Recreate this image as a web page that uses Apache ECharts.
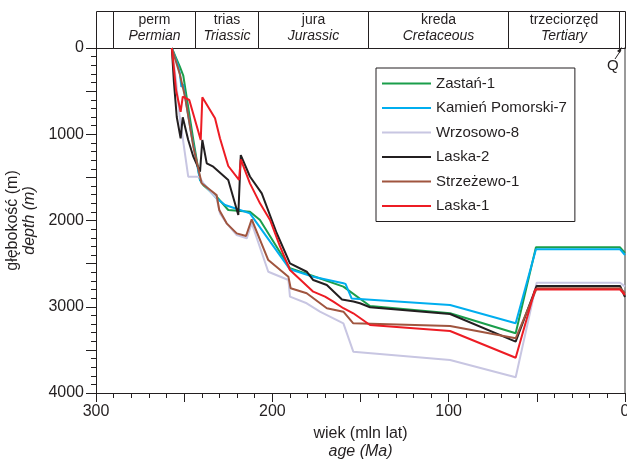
<!DOCTYPE html>
<html>
<head>
<meta charset="utf-8">
<script src="https://cdn.jsdelivr.net/npm/echarts@6/dist/echarts.min.js"></script>
<style>
html,body{margin:0;padding:0;background:#fff;}
#chart{width:627px;height:459px;}
</style>
</head>
<body>
<div id="chart"></div>
<script>
// ---- data (age in Ma, depth in m) ----
const seriesNames = ['Zastań-1', 'Kamień Pomorski-7', 'Wrzosowo-8', 'Laska-2', 'Strzeżewo-1', 'Laska-1'];
const seriesColors = ['#1a9e4b', '#00aeef', '#c8c6e2', '#231f20', '#a0553f', '#ed1c24'];

const zastan1 = [[257,0],[254.5,120],[252.4,220],[250.5,320],[244.8,1067],[241,1530],[239.1,1590],[231.6,1724],[225,1878],[212.7,1898],[207,1994],[190,2554],[178.6,2632],[159.7,2767],[144.6,2991],[99.2,3076],[62,3308],[50.5,2311],[2.8,2311],[0,2377]];
const kamien7 = [[257,0],[253.5,200],[252.4,300],[251.6,450],[250.6,420],[245.7,1028],[241,1530],[231.6,1743],[226.8,1820],[218.3,1878],[212.7,1917],[190,2566],[176.8,2652],[159.7,2728],[158.5,2735],[155,2905],[99.2,2980],[62,3192],[50.5,2334],[2.8,2334],[0,2400]];
const wrzosowo8 = [[257,0],[254.5,400],[252.5,800],[247.7,1492],[241.4,1492],[239.1,1569],[231.6,1743],[229.7,1917],[225.9,2033],[220.2,2168],[214.5,2207],[211.7,2030],[202.3,2594],[190.9,2690],[190,2883],[180.5,2960],[173,3057],[159.7,3192],[154.1,3521],[99.2,3617],[62,3818],[50.1,2721],[2.8,2721],[0,2767]];
const laska2 = [[257,0],[255.8,400],[254.2,800],[252,1047],[250.8,803],[247.7,1067],[244.8,1260],[241,1434],[239.7,1067],[237.2,1337],[233.5,1376],[225,1530],[219.3,1936],[217.9,1241],[212.7,1490],[206,1685],[197.5,2148],[190,2496],[180.5,2594],[176.8,2690],[169.1,2748],[160.5,2915],[154,2940],[150.3,2960],[144.6,3006],[99.2,3084],[62,3405],[50.1,2759],[2.8,2759],[0,2887]];
const strzezewo1 = [[257,0],[252.5,300],[249.5,565],[244.8,1144],[240.1,1569],[231.6,1704],[230.1,1878],[225.9,2033],[220.2,2149],[214.9,2180],[211.7,1986],[202.3,2458],[190.9,2651],[189.6,2786],[180.5,2844],[169.1,3018],[159.7,3057],[154.1,3192],[99.2,3223],[62,3366],[50.1,2786],[2.8,2786],[0,2841]];
const laska1 = [[257,0],[255.5,300],[254.6,490],[252,740],[250.8,565],[247.1,603],[240.6,1067],[239.7,572],[232.5,815],[229.7,1047],[225,1368],[218.9,1530],[217.9,1291],[212.7,1569],[207,1801],[201.3,1994],[195.6,2304],[190,2574],[176.8,2825],[170.1,2883],[165.4,2941],[159.7,3017],[154.1,3076],[144.6,3212],[99.2,3281],[62,3591],[51,2800],[2.8,2800],[0,2864]];

const seriesData = [zastan1, kamien7, wrzosowo8, laska2, strzezewo1, laska1];

// geological periods (Ma)
const periodStart = [300, 290.4, 243.9, 208.1, 145.7, 66.3, 3.4];
const periodEnd   = [290.4, 243.9, 208.1, 145.7, 66.3, 3.4, 0];
const periodPl = ['', 'perm', 'trias', 'jura', 'kreda', 'trzeciorzęd', ''];
const periodEn = ['', 'Permian', 'Triassic', 'Jurassic', 'Cretaceous', 'Tertiary', ''];

// axis ticks
const ageMin = 0, ageMax = 300, ageTickInterval = 50, ageLabelStep = 100;
const depthMin = 0, depthMax = 4000, depthTickInterval = 500, depthLabelStep = 1000;

const FONT = '"Liberation Sans", Arial, sans-serif';
const INK = '#231f20';

const chart = echarts.init(document.getElementById('chart'), null, {renderer: 'canvas'});

const lineSeries = seriesNames.map((name, i) => ({
  name: name,
  type: 'line',
  xAxisIndex: 0,
  yAxisIndex: 0,
  data: seriesData[i],
  symbol: 'none',
  showSymbol: false,
  lineStyle: {color: seriesColors[i], width: 2},
  itemStyle: {color: seriesColors[i]},
  z: 3,
  animation: false
}));

const periodData = periodStart.map((s, i) => [s, periodEnd[i], i]);

const headerSeries = {
  type: 'custom',
  xAxisIndex: 1,
  yAxisIndex: 2,
  data: periodData,
  encode: {x: [0, 1]},
  animation: false,
  silent: true,
  renderItem: function (params, api) {
    const s = api.value(0), e = api.value(1), idx = api.value(2);
    const p0 = api.coord([s, 1]);
    const p1 = api.coord([e, 0]);
    const x = Math.round(Math.min(p0[0], p1[0])) + 0.5;
    const w = Math.round(Math.abs(p1[0] - p0[0]));
    const y = Math.round(p0[1]) + 0.5;
    const h = Math.round(p1[1] - p0[1]);
    return {
      type: 'group',
      children: [
        {type: 'rect', shape: {x: x, y: y, width: w, height: h},
         style: {fill: 'none', stroke: INK, lineWidth: 1}},
        {type: 'text', x: x + w / 2, y: y + 2,
         style: {text: periodPl[idx], fill: INK, font: '14px ' + FONT, textAlign: 'center', textVerticalAlign: 'top'}},
        {type: 'text', x: x + w / 2, y: y + 18,
         style: {text: periodEn[idx], fill: INK, font: 'italic 14px ' + FONT, textAlign: 'center', textVerticalAlign: 'top'}}
      ]
    };
  }
};

const option = {
  backgroundColor: '#fff',
  animation: false,
  grid: [
    {left: 96, right: 2, top: 48, bottom: 66, containLabel: false, outerBoundsMode: 'none'},
    {left: 96, right: 2, top: 11, height: 37, containLabel: false, outerBoundsMode: 'none'}
  ],
  legend: {
    data: seriesNames,
    orient: 'vertical',
    left: 376,
    top: 68,
    itemWidth: 49,
    itemHeight: 15,
    itemGap: 9.5,
    padding: [8, 8, 8, 6],
    borderColor: INK,
    borderWidth: 1,
    textStyle: {fontFamily: FONT, fontSize: 15, color: INK, lineHeight: 15},
    icon: 'path://M0,0 L49,0 L49,2 L0,2 Z'
  },
  xAxis: [
    {
      type: 'value', gridIndex: 0, min: ageMin, max: ageMax, interval: ageTickInterval, inverse: true,
      position: 'bottom',
      axisLine: {show: true, onZero: false, lineStyle: {color: INK, width: 1}},
      axisTick: {show: true, length: 9, lineStyle: {color: INK}},
      minorTick: {show: true, splitNumber: 5, length: 5, lineStyle: {color: INK}},
      axisLabel: {margin: 11, fontFamily: FONT, fontSize: 16, color: INK,
        formatter: v => (v % ageLabelStep === 0 ? String(v) : '')},
      splitLine: {show: false},
      name: '{a|wiek (mln lat)}\n{b|age (Ma)}',
      nameLocation: 'middle',
      nameGap: 32,
      nameTextStyle: {
        rich: {
          a: {fontFamily: FONT, fontSize: 16, color: INK, lineHeight: 18},
          b: {fontFamily: FONT, fontSize: 16, fontStyle: 'italic', color: INK, lineHeight: 18}
        }
      }
    },
    {
      type: 'value', gridIndex: 1, min: ageMin, max: ageMax, inverse: true, show: false
    }
  ],
  yAxis: [
    {
      type: 'value', gridIndex: 0, min: depthMin, max: depthMax, interval: depthTickInterval, inverse: true,
      position: 'left',
      axisLine: {show: true, onZero: false, lineStyle: {color: INK, width: 1}},
      axisTick: {show: true, length: 10, lineStyle: {color: INK}},
      minorTick: {show: true, splitNumber: 5, length: 5, lineStyle: {color: INK}},
      axisLabel: {margin: 12, fontFamily: FONT, fontSize: 16, color: INK,
        formatter: v => (v % depthLabelStep === 0 ? String(v) : '')},
      splitLine: {show: false},
      name: '{a|głębokość (m)}\n{b|depth (m)}',
      nameLocation: 'middle',
      nameRotate: 90,
      nameGap: 53,
      nameTextStyle: {
        rich: {
          a: {fontFamily: FONT, fontSize: 16, color: INK, lineHeight: 17, align: 'center'},
          b: {fontFamily: FONT, fontSize: 16, fontStyle: 'italic', color: INK, lineHeight: 17, align: 'center'}
        }
      }
    },
    {
      type: 'value', gridIndex: 0, min: depthMin, max: depthMax, inverse: true, position: 'right',
      axisLine: {show: true, onZero: false, lineStyle: {color: '#9a9a9a', width: 2}},
      axisTick: {show: false}, axisLabel: {show: false}, splitLine: {show: false}
    },
    {
      type: 'value', gridIndex: 1, min: 0, max: 1, show: false
    }
  ],
  graphic: [
    {type: 'text', left: 607, top: 58, style: {text: 'Q', font: '15px ' + FONT, fill: INK}},
    {type: 'line', shape: {x1: 615, y1: 59, x2: 621, y2: 50}, style: {stroke: INK, lineWidth: 1}},
    {type: 'polygon', shape: {points: [[622, 47], [617, 51], [620, 53]]}, style: {fill: INK}}
  ],
  series: lineSeries.concat([headerSeries])
};

chart.setOption(option);
</script>
</body>
</html>
